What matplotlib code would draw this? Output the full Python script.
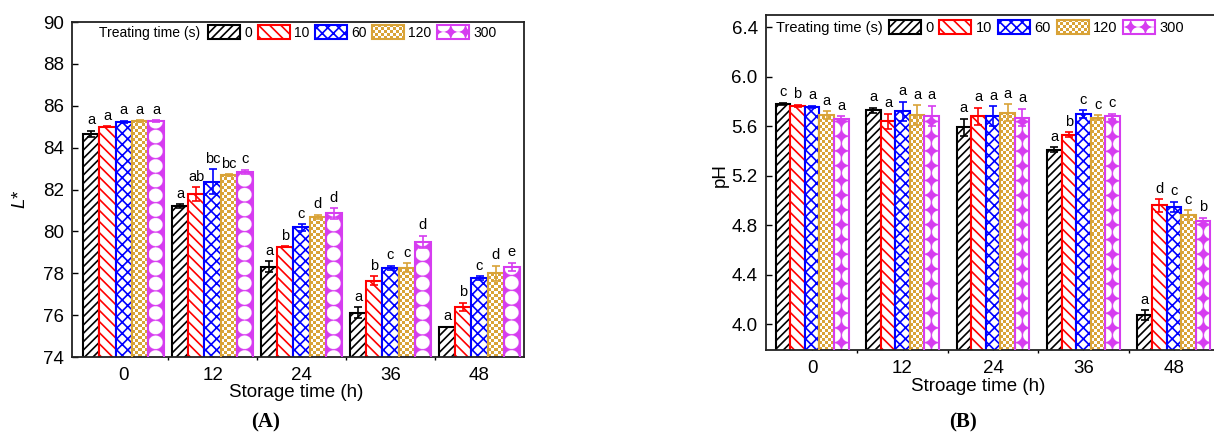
import numpy as np
import matplotlib
matplotlib.use("Agg")
import matplotlib.pyplot as plt
from matplotlib.patches import Rectangle, Circle
from matplotlib.legend_handler import HandlerBase
from matplotlib.colors import to_rgb

plt.rcParams['font.family'] = ['Liberation Sans', 'DejaVu Sans']
plt.rcParams['mathtext.fontset'] = 'custom'
plt.rcParams['mathtext.it'] = 'Liberation Sans:italic'
plt.rcParams['mathtext.rm'] = 'Liberation Sans'
plt.rcParams['hatch.linewidth'] = 1.2

# ---------------- data ----------------
storage_times = ['0', '12', '24', '36', '48']
treat_labels = ['0', '10', '60', '120', '300']

# L* values per treating time (s), across storage times
L_t0 = [84.65, 81.21, 78.31, 76.12, 75.45]
L_t10 = [85.00, 81.79, 79.27, 77.65, 76.40]
L_t60 = [85.24, 82.37, 80.19, 78.27, 77.76]
L_t120 = [85.27, 82.69, 80.70, 78.27, 78.00]
L_t300 = [85.27, 82.85, 80.86, 79.49, 78.31]
L_e0 = [0.15, 0.08, 0.27, 0.25, 0.0]
L_e10 = [0.02, 0.32, 0.03, 0.20, 0.20]
L_e60 = [0.05, 0.60, 0.15, 0.10, 0.10]
L_e120 = [0.03, 0.05, 0.10, 0.20, 0.35]
L_e300 = [0.03, 0.10, 0.25, 0.30, 0.20]
L_let0 = ['a', 'a', 'a', 'a', 'a']
L_let10 = ['a', 'ab', 'b', 'b', 'b']
L_let60 = ['a', 'bc', 'c', 'c', 'c']
L_let120 = ['a', 'bc', 'd', 'c', 'd']
L_let300 = ['a', 'c', 'd', 'd', 'e']

# pH values
pH_t0 = [5.78, 5.73, 5.59, 5.41, 4.07]
pH_t10 = [5.765, 5.64, 5.68, 5.53, 4.96]
pH_t60 = [5.757, 5.72, 5.68, 5.70, 4.95]
pH_t120 = [5.69, 5.69, 5.71, 5.67, 4.88]
pH_t300 = [5.66, 5.685, 5.67, 5.68, 4.83]
pH_e0 = [0.01, 0.02, 0.07, 0.02, 0.04]
pH_e10 = [0.01, 0.06, 0.07, 0.02, 0.05]
pH_e60 = [0.01, 0.08, 0.08, 0.03, 0.04]
pH_e120 = [0.03, 0.08, 0.07, 0.02, 0.04]
pH_e300 = [0.02, 0.08, 0.07, 0.02, 0.03]
pH_let0 = ['c', 'a', 'a', 'a', 'a']
pH_let10 = ['b', 'a', 'a', 'b', 'd']
pH_let60 = ['a', 'a', 'a', 'c', 'c']
pH_let120 = ['a', 'a', 'a', 'c', 'c']
pH_let300 = ['a', 'a', 'a', 'c', 'b']

# ---------------- styles ----------------
GOLD = '#d9a337'
MAG = '#d63cf0'
styles = [
    dict(color='black', kind='hatch', hatch='////'),
    dict(color='#ff0000', kind='hatch', hatch='\\\\\\'),
    dict(color='#0000ff', kind='hatch', hatch='xxx'),
    dict(color=GOLD, kind='checker'),
    dict(color=MAG, kind='circles'),
]


def make_texture(kind, wpx, hpx, phase):
    ss = 1 if kind == 'checker' else 4
    nx = max(1, int(round(wpx * ss)))
    ny = max(1, int(round(hpx * ss)))
    xx = (np.arange(nx) + 0.5) / ss
    yy = (np.arange(ny) + 0.5) / ss
    X, Y = np.meshgrid(xx, yy)
    img = np.ones((ny, nx, 3))
    if kind == 'checker':
        cell = 3.0
        m = ((np.floor(X / cell) + np.floor(Y / cell)) % 2) == 0
        img[m] = to_rgb(GOLD)
    else:
        p = 14.7
        r = 0.46 * p
        cx = X - phase * wpx
        dx = cx - p * np.round(cx / p)
        dy = Y - p * np.round(Y / p)
        inside = dx ** 2 + dy ** 2 < r ** 2
        img[:] = to_rgb(MAG)
        img[inside] = (1, 1, 1)
    return img


class PatternHandler(HandlerBase):
    def __init__(self, st, phase):
        super().__init__()
        self.st = st
        self.phase = phase

    def create_artists(self, legend, orig_handle, xdescent, ydescent,
                       width, height, fontsize, trans):
        st = self.st
        x0, y0 = -xdescent, -ydescent
        if st['kind'] == 'hatch':
            return [Rectangle((x0, y0), width, height, facecolor='white',
                              edgecolor=st['color'], hatch=st['hatch'],
                              lw=1.5, transform=trans)]
        arts = []
        bg = Rectangle((x0, y0), width, height,
                       facecolor=(MAG if st['kind'] == 'circles' else 'white'),
                       edgecolor='none', transform=trans)
        arts.append(bg)
        if st['kind'] == 'checker':
            cell = 2.2
            nx = int(np.ceil(width / cell))
            ny = int(np.ceil(height / cell))
            for i in range(nx):
                for j in range(ny):
                    if (i + j) % 2 == 0:
                        c = Rectangle((x0 + i * cell, y0 + j * cell), cell, cell,
                                      facecolor=GOLD, edgecolor='none', transform=trans)
                        c.set_clip_path(bg)
                        arts.append(c)
        else:
            p = 10.6
            r = 0.46 * p
            k = -1
            while x0 + (k + self.phase) * p - r < x0 + width:
                for yc in (y0, y0 + height):
                    c = Circle((x0 + (k + self.phase) * p, yc), r, facecolor='white',
                               edgecolor='none', transform=trans)
                    c.set_clip_path(bg)
                    arts.append(c)
                k += 1
        arts.append(Rectangle((x0, y0), width, height, facecolor='none',
                              edgecolor=st['color'], lw=1.5, transform=trans))
        return arts


def draw_panel(ax, series, errs, letters, ylim, xlim, bar_w, phase):
    ax.set_xlim(xlim)
    ax.set_ylim(ylim)
    x = np.arange(len(storage_times))
    ppu = ax.transData.transform((1, 1)) - ax.transData.transform((0, 0))
    for i, (vals, e, let) in enumerate(zip(series, errs, letters)):
        st = styles[i]
        xs = x + (i - 2) * bar_w
        if st['kind'] == 'hatch':
            ax.bar(xs, vals, bar_w, bottom=0, facecolor='white',
                   edgecolor=st['color'], hatch=st['hatch'], linewidth=1.5, zorder=2)
        else:
            for xc, v in zip(xs, vals):
                y0 = ylim[0]
                wpx = bar_w * ppu[0]
                hpx = (v - y0) * ppu[1]
                img = make_texture(st['kind'], wpx, hpx, phase)
                ax.imshow(img, extent=[xc - bar_w / 2, xc + bar_w / 2, y0, v],
                          origin='lower', aspect='auto',
                          interpolation=('nearest' if st['kind'] == 'checker' else 'antialiased'),
                          zorder=2)
            ax.bar(xs, vals, bar_w, bottom=0, facecolor='none',
                   edgecolor=st['color'], linewidth=1.5, zorder=3)
        ax.errorbar(xs, vals, yerr=e, fmt='none', ecolor=st['color'],
                    elinewidth=1.2, capsize=3, capthick=1.2, zorder=4)
        for xc, v, ee, l in zip(xs, vals, e, let):
            ax.annotate(l, (xc, v + ee), xytext=(0, 2.5), textcoords='offset points',
                        ha='center', va='bottom', fontsize=10.5, zorder=5)
    ax.set_xlim(xlim)
    ax.set_ylim(ylim)
    ax.set_xticks(x)
    ax.set_xticklabels(storage_times)
    ax.set_xticks(x[:-1] + 0.5, minor=True)
    ax.tick_params(axis='x', which='minor', direction='out', length=2.5, width=1)
    ax.tick_params(axis='both', which='major', direction='in', length=4, width=1,
                   labelsize=13.5)
    ax.tick_params(axis='x', which='major', pad=7)
    ax.tick_params(axis='y', which='major', pad=6)
    for sp in ax.spines.values():
        sp.set_linewidth(1.3)
        sp.set_color('#222222')


W, H = 1214, 436
fig = plt.figure(figsize=(W / 100, H / 100), dpi=100)
axA = fig.add_axes([72 / W, 1 - 357 / H, 452 / W, 335 / H])
axB = fig.add_axes([766 / W, 1 - 350 / H, 453 / W, 335 / H])

draw_panel(axA, [L_t0, L_t10, L_t60, L_t120, L_t300],
           [L_e0, L_e10, L_e60, L_e120, L_e300],
           [L_let0, L_let10, L_let60, L_let120, L_let300],
           (74, 90), (-0.58, 4.5), 0.182, 0.45)
axA.set_yticks(np.arange(74, 91, 2))

draw_panel(axB, [pH_t0, pH_t10, pH_t60, pH_t120, pH_t300],
           [pH_e0, pH_e10, pH_e60, pH_e120, pH_e300],
           [pH_let0, pH_let10, pH_let60, pH_let120, pH_let300],
           (3.79, 6.5), (-0.51, 4.5), 0.161, 1.0)
axB.set_yticks(np.arange(4.0, 6.41, 0.4))
axB.set_yticklabels([f'{v:.1f}' for v in np.arange(4.0, 6.41, 0.4)])

# labels
axA.set_ylabel(r'$\mathit{L}$*', fontsize=13.5, va='center')
axA.yaxis.set_label_coords(-0.115, 0.47)
axA.set_xlabel('Storage time (h)', fontsize=13.5, va='center')
axA.xaxis.set_label_coords(0.4956, -0.107)

axB.set_ylabel('pH', fontsize=13.5, va='center')
axB.yaxis.set_label_coords(-0.1015, 0.522)
axB.set_xlabel('Stroage time (h)', fontsize=13.5, va='center')
axB.xaxis.set_label_coords(0.468, -0.11)

# legends
for ax, hx, hy, tx, ty, phase, fs in [(axA, 0.301, 0.991, 0.06, 0.967, 0.45, 10),
                                      (axB, 0.2715, 0.985, 0.022, 0.961, 1.0, 10.5)]:
    handles = [Rectangle((0, 0), 1, 1) for _ in treat_labels]
    hmap = {h: PatternHandler(st, phase) for h, st in zip(handles, styles)}
    ax.legend(handles, treat_labels, handler_map=hmap, ncol=5, loc='upper left',
              bbox_to_anchor=(hx, hy), frameon=False, borderpad=0, borderaxespad=0,
              handlelength=32 / (fs * 100 / 72), handleheight=16 / (fs * 100 / 72),
              handletextpad=0.3, columnspacing=0.4, fontsize=fs)
    ax.text(tx, ty, 'Treating time (s)', transform=ax.transAxes, ha='left',
            va='center', fontsize=fs)

fig.text(266 / W, 1 - 422 / H, '(A)', ha='center', va='center', fontsize=15,
         fontweight='bold', family='Liberation Serif')
fig.text(963 / W, 1 - 422 / H, '(B)', ha='center', va='center', fontsize=15,
         fontweight='bold', family='Liberation Serif')

fig.savefig('out.png', dpi=100)
